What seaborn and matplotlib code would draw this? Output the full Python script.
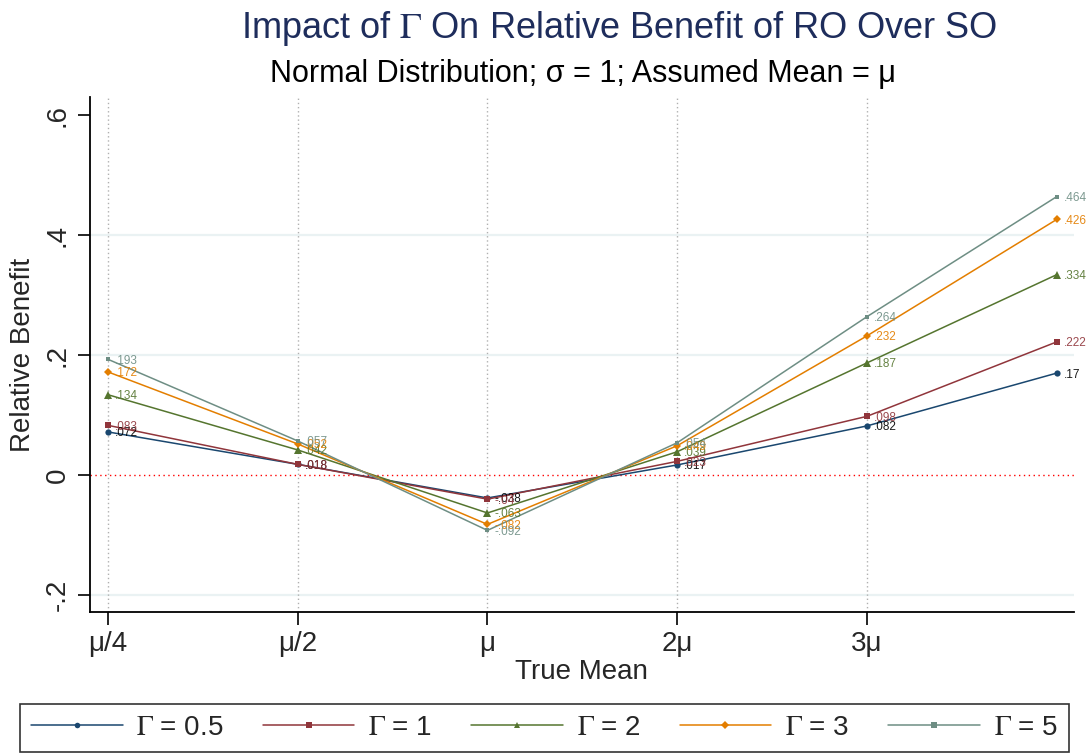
import matplotlib
matplotlib.use("Agg")
import matplotlib.pyplot as plt
import seaborn as sns
import pandas as pd
import numpy as np

sns.set_theme(style="white")
plt.rcParams['font.family'] = ['Liberation Sans', 'DejaVu Sans']
plt.rcParams['mathtext.fontset'] = 'stix'

# ---- data ----
x_labels = ["μ/4", "μ/2", "μ", "2μ", "3μ"]
x_pos = [0, 1, 2, 3, 4, 5]
series_names = ["$\\Gamma$ = 0.5", "$\\Gamma$ = 1", "$\\Gamma$ = 2", "$\\Gamma$ = 3", "$\\Gamma$ = 5"]
g05 = [0.072, 0.018, -0.038, 0.017, 0.082, 0.170]
g1 = [0.083, 0.018, -0.040, 0.023, 0.098, 0.222]
g2 = [0.134, 0.042, -0.063, 0.039, 0.187, 0.334]
g3 = [0.172, 0.052, -0.082, 0.049, 0.232, 0.426]
g5 = [0.193, 0.057, -0.092, 0.054, 0.264, 0.464]
values = [g05, g1, g2, g3, g5]
y_ticks = [-0.2, 0, 0.2, 0.4, 0.6]
y_ticklabels = ["-.2", "0", ".2", ".4", ".6"]

colors = ["#1a476f", "#90353b", "#55752f", "#e37e00", "#6e8e84"]
label_colors = ["#000000", "#90353b", "#55752f", "#e37e00", "#6e8e84"]
markers = ["o", "s", "^", "D", "s"]
msizes = [4.5, 5, 5.5, 4.5, 3.5]

fig = plt.figure(figsize=(10.89, 7.55), dpi=100)
ax = fig.add_axes([0.0826, 0.1894, 0.9034, 0.6821])

# grid lines
for yv in [-0.2, 0.2, 0.4]:
    ax.axhline(yv, color="#eaf2f3", lw=1.6, zorder=0)
for xv in x_pos[:5]:
    ax.axvline(xv, color="#b0b0b0", lw=1.0, ls=(0, (1, 2)), zorder=0.5)
ax.axhline(0, color="#ff0000", lw=1.0, ls=(0, (1, 2.5)), zorder=0.6)

def fmt(v):
    s = f"{v:.3f}".rstrip("0")
    if s.startswith("0."):
        s = s[1:]
    elif s.startswith("-0."):
        s = "-" + s[2:]
    return s

for name, vals, c, lc, m, ms in zip(series_names, values, colors, label_colors, markers, msizes):
    df = pd.DataFrame({"x": x_pos, "y": vals})
    sns.lineplot(data=df, x="x", y="y", ax=ax, color=c, lw=1.1, marker=m,
                 markersize=ms, markeredgewidth=0, label=name, zorder=3)
    for xv, yv in zip(x_pos, vals):
        ax.annotate(fmt(yv), (xv, yv), xytext=(5, -1), textcoords="offset points",
                    ha="left", va="center", fontsize=8.5, color=lc, alpha=0.9, zorder=4)

ax.set_xlim(-0.095, 5.09)
ax.set_ylim(-0.228, 0.63)
ax.set_xticks(x_pos[:5])
ax.set_xticklabels(x_labels, fontsize=20)
ax.set_yticks(y_ticks)
ax.set_yticklabels(y_ticklabels, fontsize=20, rotation=90, va="center")
ax.tick_params(axis="both", direction="out", length=9, width=1.2, color="black",
               bottom=True, left=True, pad=5)
for s in ["top", "right"]:
    ax.spines[s].set_visible(False)
for s in ["left", "bottom"]:
    ax.spines[s].set_color("black")
    ax.spines[s].set_linewidth(1.3)

ax.set_xlabel("True Mean", fontsize=20, labelpad=1)
ax.set_ylabel("Relative Benefit", fontsize=20, labelpad=6)

fig.text(0.569, 0.962, "Impact of $\\Gamma$ On Relative Benefit of RO Over SO",
         ha="center", va="center", fontsize=26, color="#1e2d5c")
fig.text(0.535, 0.902, "Normal Distribution; σ = 1; Assumed Mean = μ",
         ha="center", va="center", fontsize=22, color="black")

ax.get_legend().remove()
handles, labels = ax.get_legend_handles_labels()
leg = fig.legend(handles, labels, loc="upper center", bbox_to_anchor=(0.5, 0.068),
                 ncol=5, fontsize=20, frameon=True, fancybox=False,
                 handlelength=3.3, handletextpad=0.5, columnspacing=1.4,
                 borderpad=0.4, borderaxespad=0)
leg.get_frame().set_edgecolor("black")
leg.get_frame().set_linewidth(1.2)
for h in leg.legend_handles:
    h.set_markersize(4)

fig.savefig("out.png", dpi=100)
